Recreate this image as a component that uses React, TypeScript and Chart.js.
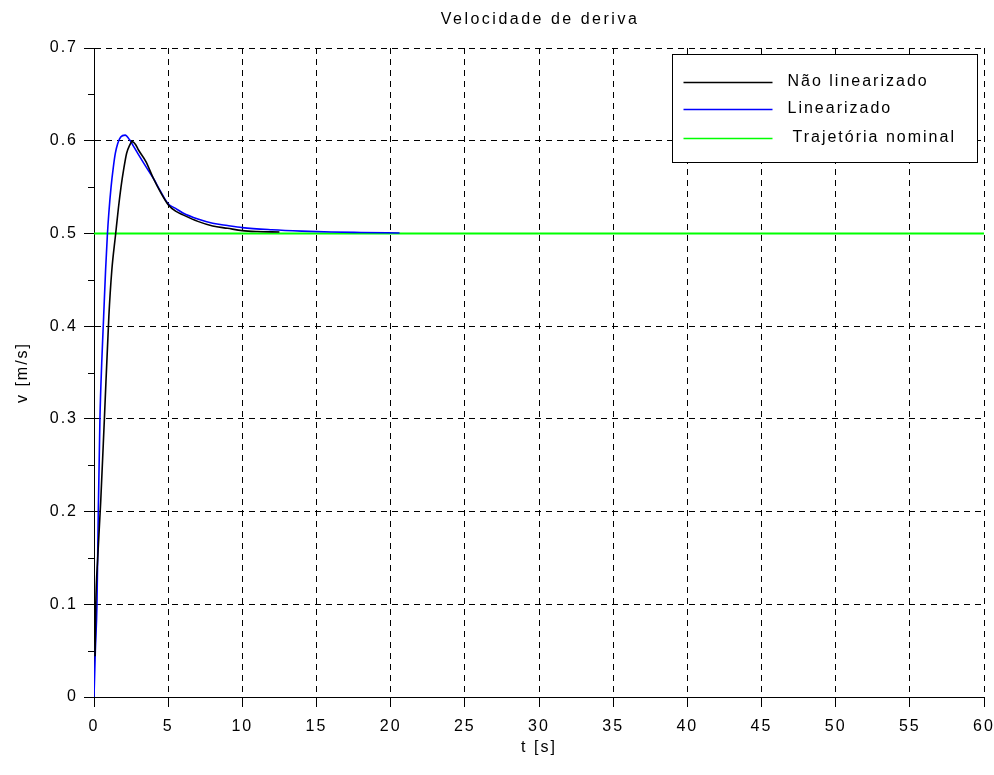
import React, { useEffect, useRef } from 'react';
import { Chart, registerables } from 'chart.js';

Chart.register(...registerables);

// ---- data ----
const chartTitle = 'Velocidade de deriva';
const xAxisTitle = 't [s]';
const yAxisTitle = 'v [m/s]';
const seriesNames = ['Não linearizado', 'Linearizado', 'Trajetória nominal'];

const tNaoLinearizado = [0.07, 0.12, 0.25, 0.45, 0.7, 1.0, 1.2, 1.45, 1.65, 1.82, 2.0, 2.2, 2.4, 2.56, 2.8, 3.0, 3.5, 4.0, 4.5, 5.0, 5.5, 6.0, 7.0, 8.0, 9.0, 10.0, 11.0, 12.5];
const vNaoLinearizado = [0.044, 0.1, 0.15, 0.21, 0.3, 0.41, 0.46, 0.498, 0.528, 0.55, 0.569, 0.5865, 0.595, 0.599, 0.596, 0.59, 0.5775, 0.5595, 0.544, 0.531, 0.524, 0.52, 0.513, 0.508, 0.5055, 0.503, 0.502, 0.5015];

const tLinearizado = [0, 0.09, 0.2, 0.29, 0.4, 0.52, 0.65, 0.78, 0.9, 1.0, 1.15, 1.3, 1.44, 1.6, 1.8, 2.1, 2.4, 2.7, 3.0, 3.5, 4.0, 4.5, 5.0, 5.5, 6.0, 7.0, 8.0, 9.0, 10.0, 12.0, 14.0, 16.0, 18.0, 20.6];
const vLinearizado = [0, 0.05, 0.1, 0.2, 0.3, 0.36, 0.41, 0.46, 0.498, 0.522, 0.55, 0.571, 0.5865, 0.597, 0.604, 0.606, 0.601, 0.593, 0.585, 0.572, 0.5595, 0.545, 0.532, 0.527, 0.522, 0.5155, 0.511, 0.5085, 0.5063, 0.504, 0.5025, 0.5015, 0.501, 0.5005];

const tNominal = [0, 60];
const vNominal = [0.5, 0.5];

const xMin = 0, xMax = 60, xStep = 5;
const yMin = 0, yMax = 0.7, yStep = 0.1;
const yMinorTicks = [0.05, 0.15, 0.25, 0.35, 0.45, 0.55, 0.65];

const seriesColors = ['#000000', '#0000ff', '#00ff00'];

const FONT = "'Liberation Sans', Arial, Helvetica, sans-serif";
const SPACING = '2px';
const FS = 16;

const toPoints = (t: number[], v: number[]) => t.map((x, i) => ({ x, y: v[i] }));

const spacingPlugin = {
  id: 'spacing',
  beforeUpdate(chart: any) { chart.ctx.letterSpacing = SPACING; },
  beforeLayout(chart: any) { chart.ctx.letterSpacing = SPACING; },
  beforeDraw(chart: any) { chart.ctx.letterSpacing = SPACING; },
};

const decorPlugin = {
  id: 'decor',
  afterDraw(chart: any) {
    const ctx = chart.ctx;
    const a = chart.chartArea;
    const yScale = chart.scales.y;
    ctx.save();
    // minor ticks on y axis
    ctx.strokeStyle = '#000';
    ctx.lineWidth = 1;
    ctx.setLineDash([]);
    yMinorTicks.forEach((v) => {
      const py = Math.round(yScale.getPixelForValue(v)) + 0.5;
      ctx.beginPath();
      ctx.moveTo(a.left - 6, py);
      ctx.lineTo(a.left, py);
      ctx.stroke();
    });
    // title
    ctx.letterSpacing = '2.5px';
    ctx.fillStyle = '#000';
    ctx.font = `${FS}px ${FONT}`;
    ctx.textAlign = 'center';
    ctx.textBaseline = 'alphabetic';
    ctx.fillText(chartTitle, (a.left + a.right) / 2 + 1, 24);
    // legend
    ctx.letterSpacing = SPACING;
    const bx = Math.round(a.right - 312) + 0.5;
    const by = Math.round(a.top + 6) + 0.5;
    const bw = 305, bh = 108;
    ctx.fillStyle = '#fff';
    ctx.fillRect(bx, by, bw, bh);
    ctx.strokeStyle = '#000';
    ctx.lineWidth = 1;
    ctx.strokeRect(bx, by, bw, bh);
    const rows = [28, 55, 84];
    const textOffsets = [115, 115, 120];
    seriesNames.forEach((name, i) => {
      const ly = by + rows[i];
      ctx.strokeStyle = seriesColors[i];
      ctx.lineWidth = 1.5;
      ctx.beginPath();
      ctx.moveTo(bx + 11, ly);
      ctx.lineTo(bx + 100, ly);
      ctx.stroke();
      ctx.fillStyle = '#000';
      ctx.textAlign = 'left';
      ctx.textBaseline = 'alphabetic';
      ctx.fillText(name, bx + textOffsets[i], ly + 3);
    });
    ctx.restore();
  },
};

export default function App() {
  const ref = useRef<HTMLCanvasElement | null>(null);

  useEffect(() => {
    if (!ref.current) return;
    const chart = new Chart(ref.current, {
      type: 'line',
      data: {
        datasets: [
          {
            label: seriesNames[0],
            data: toPoints(tNaoLinearizado, vNaoLinearizado),
            borderColor: seriesColors[0],
            borderWidth: 1.6,
            pointRadius: 0,
            cubicInterpolationMode: 'monotone',
            fill: false,
          },
          {
            label: seriesNames[1],
            data: toPoints(tLinearizado, vLinearizado),
            borderColor: seriesColors[1],
            borderWidth: 1.6,
            pointRadius: 0,
            cubicInterpolationMode: 'monotone',
            fill: false,
          },
          {
            label: seriesNames[2],
            data: toPoints(tNominal, vNominal),
            borderColor: seriesColors[2],
            borderWidth: 2,
            pointRadius: 0,
            fill: false,
          },
        ],
      },
      options: {
        responsive: false,
        animation: false,
        devicePixelRatio: 1,
        layout: { padding: { top: 48, right: 10, bottom: 0, left: 0 } },
        plugins: {
          legend: { display: false },
          title: { display: false },
          tooltip: { enabled: false },
        },
        scales: {
          x: {
            type: 'linear',
            min: xMin,
            max: xMax,
            ticks: {
              stepSize: xStep,
              color: '#000',
              padding: 10,
              maxRotation: 0,
              font: { family: FONT, size: FS },
            },
            grid: {
              color: '#000',
              lineWidth: 1,
              tickLength: 10,
              tickColor: '#000',
              drawTicks: true,
            },
            border: { display: true, color: '#000', width: 1, dash: [6, 5] },
            title: {
              display: true,
              text: xAxisTitle,
              color: '#000',
              font: { family: FONT, size: FS },
              padding: { top: 0, bottom: 18 },
            },
            afterFit: (s: any) => {
              s.height = 78;
              s.paddingLeft = 0;
              s.paddingRight = 0;
            },
          },
          y: {
            type: 'linear',
            min: yMin,
            max: yMax,
            ticks: {
              stepSize: yStep,
              color: '#000',
              padding: 6,
              font: { family: FONT, size: FS },
              callback: (v: any) => (Math.abs(v) < 1e-9 ? '0' : Number(v).toFixed(1)),
            },
            grid: {
              color: '#000',
              lineWidth: 1,
              tickLength: 10,
              tickColor: '#000',
              drawTicks: true,
            },
            border: { display: true, color: '#000', width: 1, dash: [6, 5] },
            title: {
              display: true,
              text: yAxisTitle,
              color: '#000',
              font: { family: FONT, size: FS },
              padding: { top: 13, bottom: 0 },
            },
            afterFit: (s: any) => {
              s.width = 94;
            },
          },
        },
      },
      plugins: [spacingPlugin, decorPlugin],
    } as any);
    return () => chart.destroy();
  }, []);

  return (
    <div style={{ position: 'absolute', left: 0, top: 0, width: 994, height: 775, background: '#fff' }}>
      <canvas ref={ref} width={994} height={775} />
    </div>
  );
}
